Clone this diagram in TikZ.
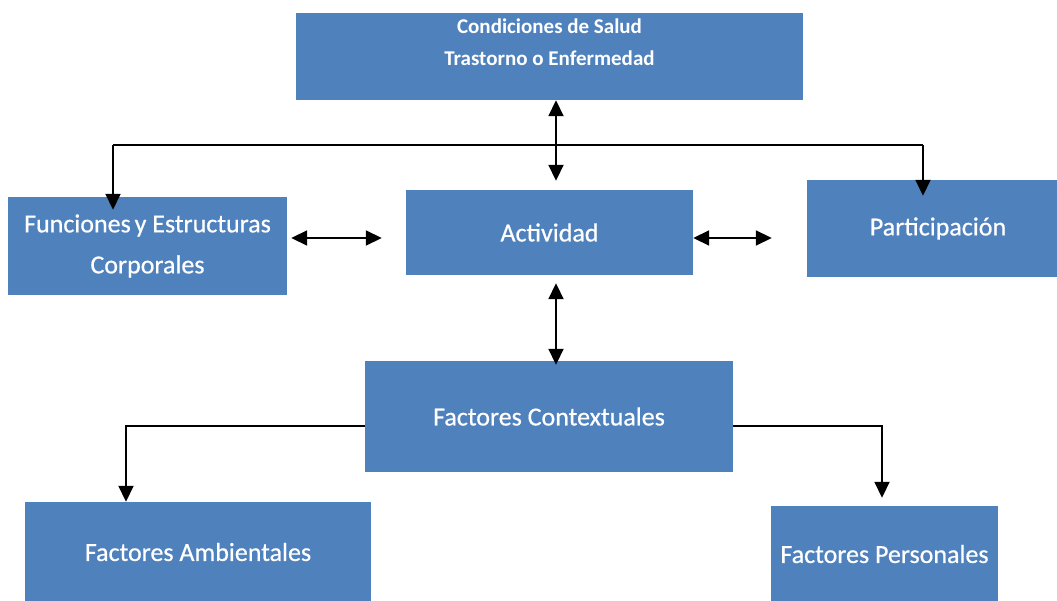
\documentclass[tikz,border=0pt]{standalone}
\usepackage{fontspec}
\setmainfont{Carlito}
\newfontfamily\boxfont[FakeBold=0.6]{Carlito}
\usetikzlibrary{arrows.meta,calc}
\definecolor{boxblue}{HTML}{4F81BD}
\begin{document}
\begin{tikzpicture}[x=1pt,y=-1pt,
  box/.style={fill=boxblue, draw=none, text=white, align=center, inner sep=0pt,
    font=\boxfont\fontsize{26}{41}\selectfont},
  lbl/.style={text=white, align=center, inner sep=0pt},
  tip/.tip={Triangle[length=16pt,width=15pt]},
  conn/.style={line width=1.8pt, -tip},
  dconn/.style={line width=1.8pt, tip-tip},
  bus/.style={line width=1.8pt}]
\useasboundingbox (0,0) rectangle (1057,601);

% boxes
\node[box, minimum width=507pt, minimum height=87pt] (cond) at (549.5,56.5) {};
\node[lbl, font=\bfseries\fontsize{21}{32}\selectfont] (condtext) at (549.5,42) {Condiciones de Salud\\Trastorno o Enfermedad};
\node[box, minimum width=279pt, minimum height=98pt] (func) at (147.5,246) {Funciones\hspace{-2pt} y Estructuras\\Corporales};
\node[box, minimum width=287pt, minimum height=85pt] (act) at (549.5,232.5) {Actividad};
\node[box, minimum width=250pt, minimum height=97pt] (part) at (932,228.5) {\hspace{12pt}Participación};
\node[box, minimum width=368pt, minimum height=111pt] (fc) at (549,416.5) {Factores Contextuales};
\node[box, minimum width=346pt, minimum height=100pt] (amb) at (198,552) {Factores Ambientales};
\node[box, minimum width=227pt, minimum height=96pt] (pers) at (884.5,554) {Factores Personales};

% health condition to activity
\draw[dconn, shorten >=9pt] ($(cond.south)+(6.5,0)$) -- ($(act.north)+(6.5,0)$);

% distribution bar to body functions and participation
\coordinate (busL) at (113,145);
\coordinate (busR) at (923,145);
\draw[bus] (busL) -- (busR);
\draw[conn, shorten >=-13pt] (busL) -- (func.north -| busL);
\draw[conn, shorten >=-16pt] (busR) -- (part.north -| busR);

% activity links
\draw[dconn, shorten <=4pt, shorten >=24pt] ($(func.east |- act.west)+(0,5.5)$) -- ($(act.west)+(0,5.5)$);
\draw[dconn, shorten <=0pt, shorten >=35pt] ($(act.east)+(0,5.5)$) -- ($(part.west |- act.east)+(0,5.5)$);
\draw[dconn, shorten <=8pt, shorten >=-4pt] ($(act.south)+(6.5,0)$) -- ($(fc.north)+(7,0)$);

% contextual factors
\draw[conn] ($(fc.west)+(0,9.5)$) -| ($(amb.north)+(-72,0)$);
\draw[conn] ($(fc.east)+(0,9.5)$) -| ($(pers.north)+(-2.5,-8)$);
\end{tikzpicture}
\end{document}
